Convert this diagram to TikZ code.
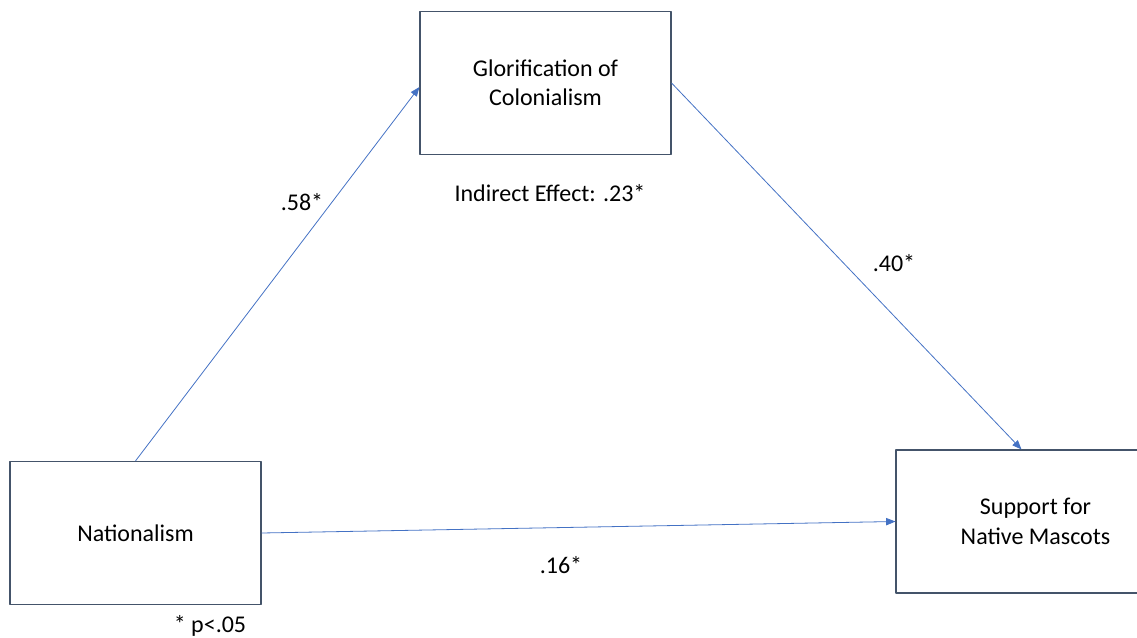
\documentclass[tikz,border=0pt]{standalone}
\usepackage{fontspec}
\setmainfont{Carlito}
\usetikzlibrary{arrows.meta}
\definecolor{boxline}{HTML}{44546A}
\definecolor{pathblue}{HTML}{4472C4}
\begin{document}
\begin{tikzpicture}[x=0.75pt, y=-0.75pt, font=\fontsize{18}{22}\selectfont, line join=round]
	\tikzset{
		varbox/.style={draw=boxline, line width=1.1pt, minimum width=188pt, minimum height=107pt, inner sep=0pt, align=center},
		path/.style={draw=pathblue, line width=0.6pt, -{Triangle[length=7pt, width=5.5pt]}}
	}
	\useasboundingbox (0,0) rectangle (1137,638);
	
	% Các biến
	\node[varbox] (glor) at (545.5,83) {Glorification of\\ Colonialism};
	\node[varbox] (nat) at (135.5,533) {Nationalism};
	\node[varbox] (sup) at (1021.5,521.5) {\hspace*{21pt}Support for\\ \hspace*{21pt}Native Mascots};
	
	% Các đường tác động
	\draw[path] (nat.north) -- ([yshift=-3pt]glor.west);
	\draw[path] (glor.east) -- (sup.north);
	\draw[path] (nat.east) -- (sup.west);
	
	% Hệ số
	\node (a) at (302,202) {.58*};
	\node (b) at (894,263) {.40*};
	\node (c) at (561,565) {.16*};
	\node (ind) at (550,193) {Indirect Effect: .23*};
	\node (note) at (210,626) {* p<.05};
\end{tikzpicture}
\end{document}
